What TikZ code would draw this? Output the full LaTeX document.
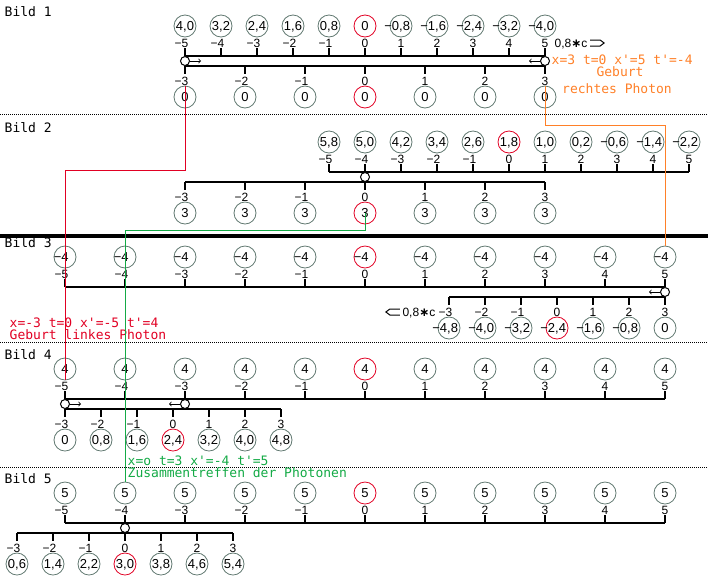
\documentclass[tikz,border=0pt]{standalone}
\usepackage{fontspec}
\setmainfont{Liberation Sans}
\newfontfamily\monofont{DejaVu Sans Mono}
\newfontfamily\symfont{DejaVu Sans}
\usepackage{tikz}

\definecolor{clockgray}{RGB}{96,120,112}
\definecolor{photred}{RGB}{225,0,35}
\definecolor{photorange}{RGB}{255,128,40}
\definecolor{photgreen}{RGB}{20,170,70}

\newcommand\tickfont{\fontsize{12}{14}\selectfont}
\newcommand\clockfont{\fontsize{13}{15}\selectfont}
\newcommand\ticklab[1]{\ifnum#1<0 \llap{−}\number\numexpr0-(#1)\relax\else#1\fi}

\begin{document}
\begin{tikzpicture}[x=1pt, y=-1pt, line width=1.4pt,
  clock/.style={circle, draw=clockgray, line width=0.8pt, minimum size=22pt, inner sep=0pt},
  every label/.style={font=\clockfont, inner sep=0pt, text height=9.3pt, text depth=0pt},
  num/.style={font=\tickfont, inner sep=0pt, text height=8.6pt, text depth=0pt},
  photon/.style={circle, draw, fill=white, line width=1pt, minimum size=9pt, inner sep=0pt},
  mono/.style={font=\monofont\fontsize{13}{15}\selectfont, inner sep=0pt, anchor=west, text height=8pt, text depth=2pt},
  divider/.style={line width=1pt, dash pattern=on 1pt off 1pt},
  beam/.style={line width=0.8pt}]
\useasboundingbox (0,0) rectangle (708,582);

% Bild 1
\node[mono] (bild1) at (4,13) {Bild 1};
\draw (185,56) -- (545,56);
\draw (185,66) -- (545,66);
\foreach \lab [count=\k from 0] in {{4,0},{3,2},{2,4},{1,6},{0,8},{0},{\llap{−}0,8},{\llap{−}1,6},{\llap{−}2,4},{\llap{−}3,2},{\llap{−}4,0}} {
  \pgfmathtruncatemacro\i{\k-5}
  \pgfmathsetmacro\x{365+36*\i}
  \ifnum\i=0 \def\cc{photred}\else\def\cc{clockgray}\fi
  \draw (\x,56) -- ++(0,-8);
  \node[num] (B1ut\k) at (\x,43) {\ticklab{\i}};
  \node[clock, draw=\cc, label={center:\lab}] (B1u\k) at (\x,26) {};
}
\foreach \lab [count=\k from 0] in {0,0,0,0,0,0,0} {
  \pgfmathtruncatemacro\i{\k-3}
  \pgfmathsetmacro\x{365+60*\i}
  \ifnum\i=0 \def\cc{photred}\else\def\cc{clockgray}\fi
  \draw (\x,66) -- ++(0,8);
  \node[num] (B1lt\k) at (\x,81) {\ticklab{\i}};
  \node[clock, draw=\cc, label={center:\lab}] (B1l\k) at (\x,97) {};
}
\node[photon] (ph1l) at (185,61) {};
\node[photon] (ph1r) at (545,61) {};
\draw[beam,->] (ph1l.east) -- ++(11,0);
\draw[beam,->] (ph1r.west) -- ++(-11,0);
\node[num, anchor=west] (v1) at (554,43) {0,8{\symfont\bfseries ∗}c};
\draw[line width=1pt] (v1.east) ++(2,-3) -- ++(10,0) -- ++(4,3) -- ++(-4,3) -- ++(-10,0);
\node[mono, text=photorange] (born1) at (551,61) {x=3 t=0 x\textquotesingle=5 t\textquotesingle=-4};
\node[mono, text=photorange, anchor=center] (born1a) at (620,73) {Geburt};
\node[mono, text=photorange, anchor=center] (born1b) at (617,90) {rechtes Photon};
\draw[divider] (0,114) -- (708,114);

% Bild 2
\node[mono] (bild2) at (4,129) {Bild 2};
\draw (329,172) -- (689,172);
\draw (185,182) -- (545,182);
\foreach \lab [count=\k from 0] in {{5,8},{5,0},{4,2},{3,4},{2,6},{1,8},{1,0},{0,2},{\llap{−}0,6},{\llap{−}1,4},{\llap{−}2,2}} {
  \pgfmathtruncatemacro\i{\k-5}
  \pgfmathsetmacro\x{509+36*\i}
  \ifnum\i=0 \def\cc{photred}\else\def\cc{clockgray}\fi
  \draw (\x,172) -- ++(0,-8);
  \node[num] (B2ut\k) at (\x,159) {\ticklab{\i}};
  \node[clock, draw=\cc, label={center:\lab}] (B2u\k) at (\x,142) {};
}
\foreach \i [count=\k from 0] in {-3,...,3} {
  \pgfmathsetmacro\x{365+60*\i}
  \ifnum\i=0 \def\cc{photred}\else\def\cc{clockgray}\fi
  \draw (\x,182) -- ++(0,8);
  \node[num] (B2lt\k) at (\x,197) {\ticklab{\i}};
  \node[clock, draw=\cc, label={center:3}] (B2l\k) at (\x,213) {};
}
\node[photon] (ph2) at (365,177) {};
\draw[line width=4pt] (0,236) -- (708,236);

% Bild 3
\node[mono] (bild3) at (4,244) {Bild 3};
\draw (65,287) -- (665,287);
\draw (449,297) -- (665,297);
\foreach \i [count=\k from 0] in {-5,...,5} {
  \pgfmathsetmacro\x{365+60*\i}
  \ifnum\i=0 \def\cc{photred}\else\def\cc{clockgray}\fi
  \draw (\x,287) -- ++(0,-8);
  \node[num] (B3ut\k) at (\x,274) {\ticklab{\i}};
  \node[clock, draw=\cc, label={center:\llap{−}4}] (B3u\k) at (\x,257) {};
}
\foreach \lab [count=\k from 0] in {{\llap{−}4,8},{\llap{−}4,0},{\llap{−}3,2},{\llap{−}2,4},{\llap{−}1,6},{\llap{−}0,8},{0}} {
  \pgfmathtruncatemacro\i{\k-3}
  \pgfmathsetmacro\x{557+36*\i}
  \ifnum\i=0 \def\cc{photred}\else\def\cc{clockgray}\fi
  \draw (\x,297) -- ++(0,8);
  \node[num] (B3lt\k) at (\x,312) {\ticklab{\i}};
  \node[clock, draw=\cc, label={center:\lab}] (B3l\k) at (\x,328) {};
}
\node[photon] (ph3) at (665,292) {};
\draw[beam,->] (ph3.west) -- ++(-11,0);
\node[num, anchor=east] (v3) at (436,312) {0,8{\symfont\bfseries ∗}c};
\draw[line width=1pt] (v3.west) ++(-2,-3) -- ++(-10,0) -- ++(-4,3) -- ++(4,3) -- ++(10,0);
\node[mono, text=photred] (born3) at (9,324) {x=-3 t=0 x\textquotesingle=-5 t\textquotesingle=4};
\node[mono, text=photred] (born3a) at (9,336) {Geburt linkes Photon};
\draw[divider] (0,342) -- (708,342);

% Bild 4
\node[mono] (bild4) at (4,356) {Bild 4};
\draw (65,399) -- (665,399);
\draw (65,409) -- (281,409);
\foreach \i [count=\k from 0] in {-5,...,5} {
  \pgfmathsetmacro\x{365+60*\i}
  \ifnum\i=0 \def\cc{photred}\else\def\cc{clockgray}\fi
  \draw (\x,399) -- ++(0,-8);
  \node[num] (B4ut\k) at (\x,386) {\ticklab{\i}};
  \node[clock, draw=\cc, label={center:4}] (B4u\k) at (\x,369) {};
}
\foreach \lab [count=\k from 0] in {{0},{0,8},{1,6},{2,4},{3,2},{4,0},{4,8}} {
  \pgfmathtruncatemacro\i{\k-3}
  \pgfmathsetmacro\x{173+36*\i}
  \ifnum\i=0 \def\cc{photred}\else\def\cc{clockgray}\fi
  \draw (\x,409) -- ++(0,8);
  \node[num] (B4lt\k) at (\x,424) {\ticklab{\i}};
  \node[clock, draw=\cc, label={center:\lab}] (B4l\k) at (\x,440) {};
}
\node[photon] (ph4l) at (65,404) {};
\node[photon] (ph4r) at (185,404) {};
\draw[beam,->] (ph4l.east) -- ++(11,0);
\draw[beam,->] (ph4r.west) -- ++(-11,0);
\draw[divider] (0,467) -- (708,467);

% Bild 5
\node[mono] (bild5) at (4,480) {Bild 5};
\draw (65,523) -- (665,523);
\draw (17,533) -- (233,533);
\foreach \i [count=\k from 0] in {-5,...,5} {
  \pgfmathsetmacro\x{365+60*\i}
  \ifnum\i=0 \def\cc{photred}\else\def\cc{clockgray}\fi
  \draw (\x,523) -- ++(0,-8);
  \node[num] (B5ut\k) at (\x,510) {\ticklab{\i}};
  \node[clock, draw=\cc, label={center:5}] (B5u\k) at (\x,493) {};
}
\foreach \lab [count=\k from 0] in {{0,6},{1,4},{2,2},{3,0},{3,8},{4,6},{5,4}} {
  \pgfmathtruncatemacro\i{\k-3}
  \pgfmathsetmacro\x{125+36*\i}
  \ifnum\i=0 \def\cc{photred}\else\def\cc{clockgray}\fi
  \draw (\x,533) -- ++(0,8);
  \node[num] (B5lt\k) at (\x,548) {\ticklab{\i}};
  \node[clock, draw=\cc, label={center:\lab}] (B5l\k) at (\x,564) {};
}
\node[photon] (ph5) at (125,528) {};
\node[mono, text=photgreen] (meet) at (127,462) {x=o t=3 x\textquotesingle=-4 t\textquotesingle=5};
\node[mono, text=photgreen] (meeta) at (127,474) {Zusammentreffen der Photonen};

% photon paths
\draw[photorange, beam] (B1l6.north) -- (B1l6.north |- 0,125) -| (B3u10.north);
\draw[photred, beam] (B1l0.north) -- (B1l0.north |- 0,170) -| (B4u0.south);
\draw[photgreen, beam] (B2l3.center) -- (B2l3.center |- 0,230) -| (B5u1.north);
\end{tikzpicture}
\end{document}
